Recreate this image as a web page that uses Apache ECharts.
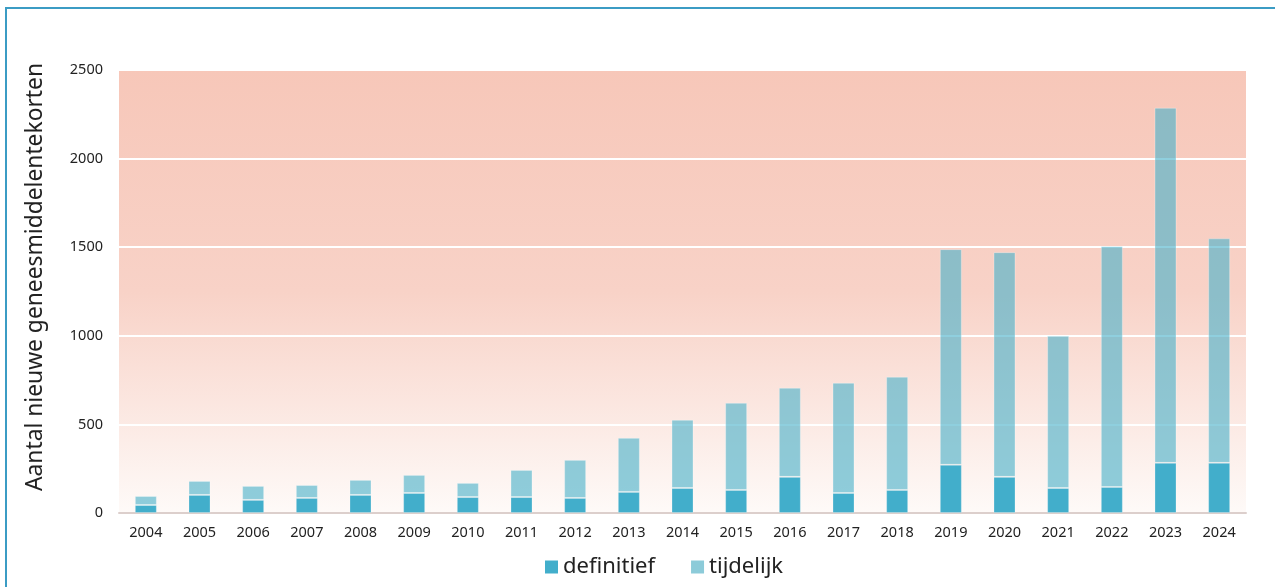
<!DOCTYPE html>
<html>
<head>
<meta charset="utf-8">
<script src="https://cdn.jsdelivr.net/npm/echarts@6/dist/echarts.min.js"></script>
<style>
html,body{margin:0;padding:0;background:#fff;}
#frame{position:absolute;left:5px;top:7px;width:1275px;height:600px;border-top:2px solid #3b9cc4;border-left:2px solid #3b9cc4;z-index:5;pointer-events:none;}
#chart{position:absolute;left:0;top:0;width:1275px;height:587px;}
</style>
</head>
<body>
<div id="chart"></div>
<div id="frame"></div>
<script>
const years = ['2004','2005','2006','2007','2008','2009','2010','2011','2012','2013','2014','2015','2016','2017','2018','2019','2020','2021','2022','2023','2024'];
const definitief = [45,102,74,85,102,113,90,90,85,119,141,130,204,113,130,272,204,141,147,283,283];
const totaal = [96,181,153,158,187,215,170,243,300,424,526,622,707,735,769,1489,1472,1000,1506,2287,1550];
const tijdelijk = totaal.map((t,i)=>t-definitief[i]);
const yTicks = [0,500,1000,1500,2000,2500];
const yTitle = 'Aantal nieuwe geneesmiddelentekorten';

const chart = echarts.init(document.getElementById('chart'));
const font = 'Noto Sans';
chart.setOption({
  animation:false,
  textStyle:{fontFamily:font},
  grid:{left:119,right:29,top:70,bottom:74,show:true,borderWidth:0,
    backgroundColor:new echarts.graphic.LinearGradient(0,0,0,1,[
      {offset:0,color:'#f7c7b9'},{offset:0.5,color:'#f8d2c7'},{offset:1,color:'#fefaf8'}])},
  graphic:[{type:'text',rotation:Math.PI/2,
    x:36,y:277,
    style:{text:yTitle,fontSize:22.8,fill:'#222',fontFamily:font,align:'center',verticalAlign:'middle'}}],
  legend:{left:540,top:551,icon:'rect',itemWidth:13,itemHeight:13,itemGap:36,
    textStyle:{fontSize:22,color:'#222',fontFamily:font},
    data:[{name:'definitief',itemStyle:{color:'#42aecb',borderWidth:0}},
          {name:'tijdelijk',itemStyle:{color:'#8ccbd9',opacity:1,borderWidth:0}}]},
  xAxis:{type:'category',data:years,
    axisLine:{lineStyle:{color:'#dccfcc',width:2}},
    axisTick:{show:false},
    axisLabel:{color:'#222',fontSize:14.5,margin:12,fontFamily:font}},
  yAxis:{type:'value',min:yTicks[0],max:yTicks[yTicks.length-1],interval:500,
    axisLine:{show:false},axisTick:{show:false},
    axisLabel:{color:'#222',fontSize:14.5,margin:16,fontFamily:font,formatter:v=>String(v)},
    splitLine:{lineStyle:{color:'#ffffff',width:2}}},
  series:[
    {name:'definitief',type:'bar',stack:'a',data:definitief,barWidth:'41%',
      itemStyle:{color:'#42aecb',borderColor:'rgba(255,255,255,0.25)',borderWidth:1}},
    {name:'tijdelijk',type:'bar',stack:'a',data:tijdelijk,barWidth:'41%',
      itemStyle:{color:'rgba(74,177,201,0.62)',borderColor:'rgba(255,255,255,0.3)',borderWidth:1}}
  ]
});
</script>
</body>
</html>
